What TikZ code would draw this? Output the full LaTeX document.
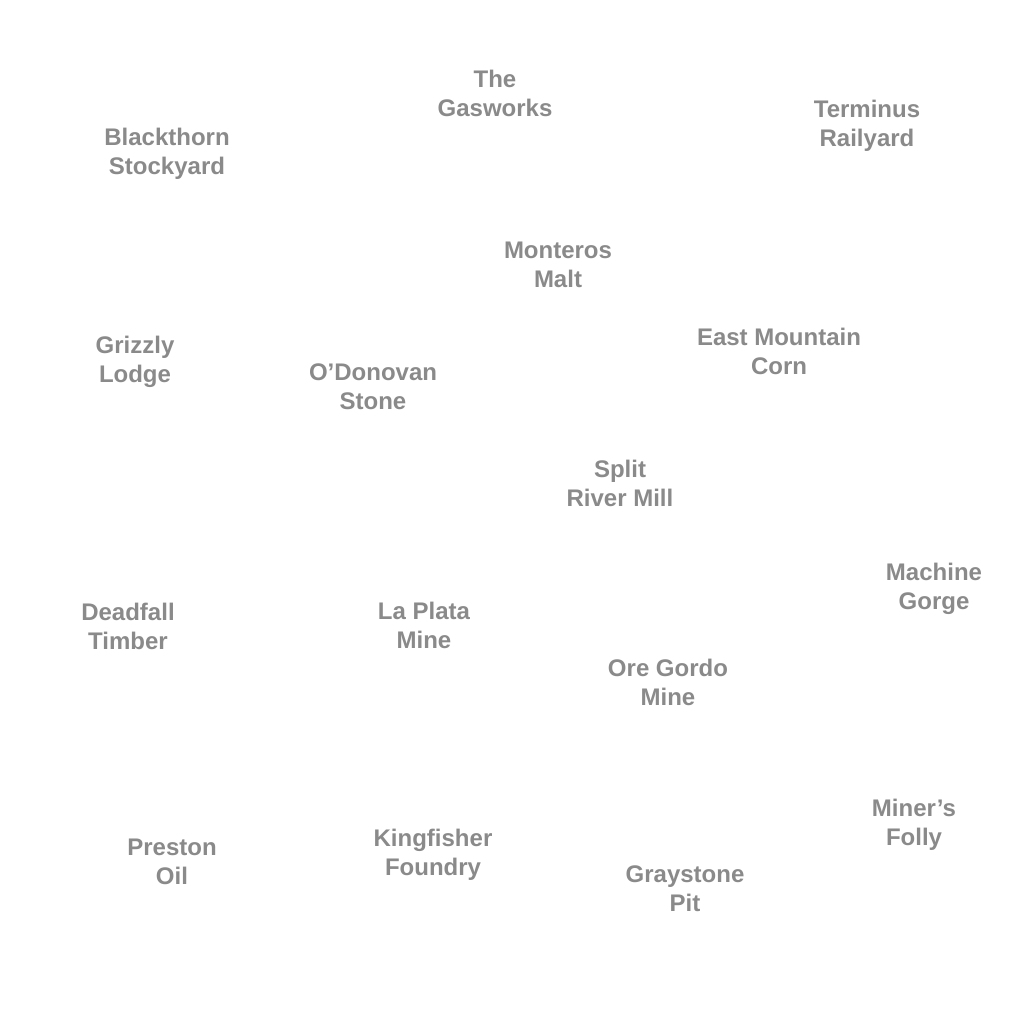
\documentclass[tikz,border=0pt]{standalone}
\usepackage{fontspec}
\setmainfont{Liberation Sans}
\definecolor{sitegray}{RGB}{138,138,138}

\begin{document}
\begin{tikzpicture}[
  x=0.5pt, y=-0.5pt,
  site/.style={align=center, inner sep=0pt, text=sitegray,
    font=\fontsize{12pt}{14.5pt}\selectfont\bfseries}
]
\useasboundingbox[fill=white] (0,0) rectangle (1024,1024);

% place names
\foreach \nm/\px/\py/\txt in {
  gas/495/93/{The\\Gasworks},
  stock/167/154/{Blackthorn\\Stockyard},
  rail/867/126/{Terminus\\Railyard},
  malt/558/265/{Monteros\\Malt},
  corn/779/351/{East Mountain\\Corn},
  lodge/135/362/{Grizzly\\Lodge},
  stone/373/387/{O’Donovan\\Stone},
  mill/620/483/{Split\\River Mill},
  gorge/934/589/{Machine\\Gorge},
  timber/128/626/{Deadfall\\Timber},
  plata/424/625/{La Plata\\Mine},
  gordo/668/682/{Ore Gordo\\Mine},
  folly/914/825/{Miner’s\\Folly},
  oil/172/862/{Preston\\Oil},
  foundry/433/855/{Kingfisher\\Foundry},
  pit/685/889/{Graystone\\Pit}}
  \node[site] (\nm) at (\px,\py) {\txt};

\end{tikzpicture}
\end{document}
